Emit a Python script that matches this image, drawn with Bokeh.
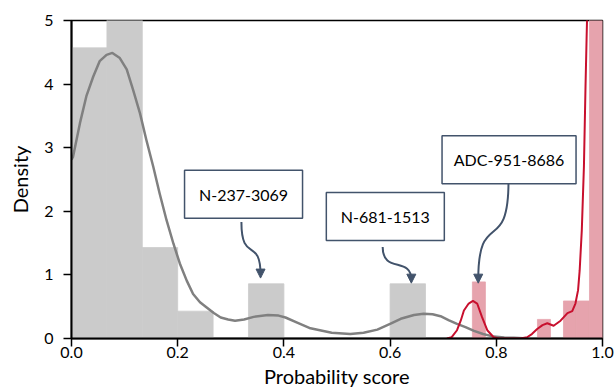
import numpy as np
from bokeh.plotting import figure
from bokeh.models import Range1d, Arrow, NormalHead, FixedTicker, PrintfTickFormatter
from bokeh.core.properties import value
from bokeh.embed import file_html
from bokeh.resources import INLINE

# ---------------- data ----------------
grey_bin_edges = [0.0, 0.0667, 0.1333, 0.2, 0.2667, 0.3333, 0.4, 0.4667, 0.5333, 0.6, 0.6667]
grey_density = [4.57, 5.71, 1.43, 0.43, 0.0, 0.86, 0.0, 0.0, 0.0, 0.86]

red_bin_edges = [0.755, 0.7795, 0.804, 0.8285, 0.853, 0.8775, 0.902, 0.9265, 0.951, 0.9755, 1.0]
red_density = [0.89, 0.0, 0.0, 0.0, 0.0, 0.30, 0.0, 0.59, 0.59, 37.0]

grey_kde_x = [0.0, 0.003, 0.016, 0.028, 0.041, 0.053, 0.066, 0.077, 0.091, 0.104, 0.116,
              0.129, 0.141, 0.154, 0.166, 0.179, 0.192, 0.204, 0.217, 0.229, 0.242, 0.254,
              0.268, 0.281, 0.295, 0.308, 0.325, 0.343, 0.37, 0.39, 0.403, 0.425, 0.45,
              0.49, 0.525, 0.55, 0.576, 0.6, 0.62, 0.645, 0.663, 0.68, 0.695, 0.71, 0.726,
              0.742, 0.758, 0.775, 0.795, 0.815, 0.833, 0.86]
grey_kde_y = [2.81, 2.86, 3.39, 3.81, 4.12, 4.36, 4.46, 4.49, 4.41, 4.23, 3.91,
              3.54, 3.12, 2.70, 2.28, 1.86, 1.49, 1.18, 0.91, 0.70, 0.57, 0.49,
              0.40, 0.33, 0.30, 0.28, 0.30, 0.34, 0.37, 0.36, 0.33, 0.25, 0.16,
              0.09, 0.07, 0.09, 0.14, 0.23, 0.31, 0.37, 0.39, 0.38, 0.35, 0.29, 0.23,
              0.18, 0.12, 0.07, 0.03, 0.015, 0.01, 0.0]

red_kde_x = [0.707, 0.716, 0.726, 0.733, 0.739, 0.748, 0.756, 0.764, 0.773, 0.783, 0.795,
             0.805, 0.82, 0.845, 0.858, 0.867, 0.877, 0.887, 0.896, 0.908, 0.921, 0.934,
             0.943, 0.949, 0.954, 0.957, 0.961, 0.965, 0.968, 0.970, 0.975, 0.985, 1.0]
red_kde_y = [0.0, 0.02, 0.13, 0.28, 0.44, 0.55, 0.59, 0.55, 0.34, 0.13, 0.02,
             0.0, 0.0, 0.0, 0.02, 0.07, 0.15, 0.21, 0.24, 0.20, 0.28, 0.40,
             0.43, 0.55, 0.76, 1.07, 1.7, 2.7, 3.96, 4.7, 6.5, 9.0, 12.0]

x_ticks = [0.0, 0.2, 0.4, 0.6, 0.8, 1.0]
y_ticks = [0, 1, 2, 3, 4, 5]

ann_labels = ["N-237-3069", "N-681-1513", "ADC-951-8686"]
ann_box_x = [0.324, 0.591, 0.824]
ann_box_y = [2.27, 1.92, 2.81]
ann_box_w = [118, 118, 134]
ann_tail_x = [0.320, 0.586, 0.823]
ann_tail_y = [1.83, 1.44, 2.48]
ann_head_x = [0.356, 0.640, 0.766]
ann_head_y = [0.95, 0.87, 0.87]

FONT = "Lato"
GREY_BAR = "#cbcbcb"
RED_BAR = "#e6a3ad"
GREY_LINE = "#808080"
RED_LINE = "#c8102e"
ANN = "#42536b"

p = figure(width=616, height=392, output_backend="svg", toolbar_location=None,
           x_range=Range1d(0, 1), y_range=Range1d(0, 5),
           min_border_left=71, min_border_right=14, min_border_top=20, min_border_bottom=54)
p.background_fill_color = "white"
p.border_fill_color = "white"
p.grid.visible = False
p.outline_line_color = "black"
p.outline_line_width = 1.5

# histograms
p.quad(left=grey_bin_edges[:-1], right=grey_bin_edges[1:], bottom=0, top=grey_density,
       fill_color=GREY_BAR, line_color=GREY_BAR, line_width=0.8)
p.quad(left=red_bin_edges[:-1], right=red_bin_edges[1:], bottom=0, top=red_density,
       fill_color=RED_BAR, line_color=RED_BAR, line_width=0.8)

# kde lines
p.line(grey_kde_x, grey_kde_y, line_color=GREY_LINE, line_width=2.5, line_join="round")
p.line(red_kde_x, red_kde_y, line_color=RED_LINE, line_width=2, line_join="round")

# annotations
for i in range(len(ann_labels)):
    x0, y0 = ann_tail_x[i], ann_tail_y[i]
    x1, y1 = ann_head_x[i], ann_head_y[i]
    dy = y0 - y1
    p.bezier(x0=[x0], y0=[y0], x1=[x1], y1=[y1 + 0.05],
             cx0=[x0], cy0=[y0 - 0.75 * dy], cx1=[x1], cy1=[y0 - 0.25 * dy],
             line_color=ANN, line_width=2)
    p.add_layout(Arrow(x_start=x1, y_start=y1 + 0.12, x_end=x1, y_end=y1,
                       line_alpha=0,
                       end=NormalHead(size=9, fill_color=ANN, line_color=ANN)))
    p.rect(x=[ann_box_x[i]], y=[ann_box_y[i]], width=[ann_box_w[i]], height=[48],
           width_units="screen", height_units="screen",
           fill_color="white", line_color=ANN, line_width=1.5)
    p.text(x=[ann_box_x[i]], y=[ann_box_y[i]], text=[ann_labels[i]],
           text_align="center", text_baseline="middle",
           text_font=value(FONT), text_font_size="16px", text_color="black")

# axes
p.xaxis.ticker = FixedTicker(ticks=x_ticks)
p.yaxis.ticker = FixedTicker(ticks=y_ticks)
p.xaxis.formatter = PrintfTickFormatter(format="%.1f")
for ax in (p.xaxis[0], p.yaxis[0]):
    ax.axis_line_color = "black"
    ax.axis_line_width = 2
    ax.major_tick_line_color = "black"
    ax.major_tick_line_width = 1.5
    ax.major_tick_in = 0
    ax.major_tick_out = 8
    ax.minor_tick_line_color = None
    ax.major_label_text_font = FONT
    ax.major_label_text_font_size = "16px"
    ax.major_label_text_color = "black"
    ax.axis_label_text_font = FONT
    ax.axis_label_text_font_size = "20px"
    ax.axis_label_text_font_style = "normal"
    ax.axis_label_text_color = "black"

p.xaxis.axis_label = "Probability score"
p.yaxis.axis_label = "Density"
p.xaxis.major_label_standoff = 0
p.xaxis.axis_label_standoff = 3
p.yaxis.major_label_standoff = 10
p.yaxis.axis_label_standoff = 9

open("out.html", "w").write(file_html(p, INLINE))
